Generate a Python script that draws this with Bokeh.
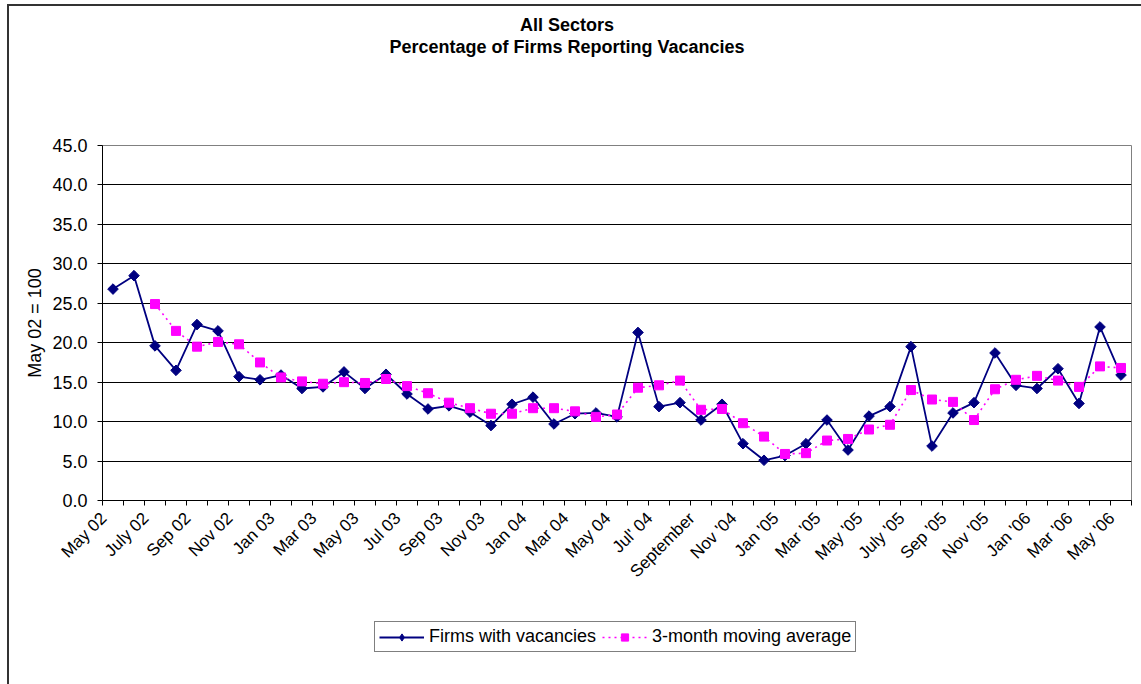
import math
from bokeh.plotting import figure
from bokeh.layouts import column
from bokeh.models import FixedTicker, NumeralTickFormatter, Legend, LegendItem, Range1d, Div
from bokeh.embed import file_html
from bokeh.resources import INLINE

# ---- data ----
tick_labels = ["May 02", "July 02", "Sep 02", "Nov 02", "Jan 03", "Mar 03", "May 03", "Jul 03",
               "Sep 03", "Nov 03", "Jan 04", "Mar 04", "May 04", "Jul' 04", "September",
               "Nov '04", "Jan '05", "Mar '05", "May '05", "July '05", "Sep '05", "Nov '05",
               "Jan '06", "Mar '06", "May '06"]

firms = [26.8, 28.5, 19.6, 16.5, 22.3, 21.5, 15.7, 15.3, 15.9, 14.2,
         14.4, 16.3, 14.2, 16.0, 13.5, 11.6, 12.0, 11.2, 9.5, 12.2,
         13.1, 9.7, 11.0, 11.1, 10.6, 21.3, 11.9, 12.4, 10.2, 12.2,
         7.2, 5.1, 5.7, 7.2, 10.2, 6.4, 10.7, 11.9, 19.5, 6.9,
         11.1, 12.4, 18.7, 14.6, 14.2, 16.7, 12.3, 22.0, 15.9]

moving_avg = [float("nan"), float("nan"), 24.9, 21.5, 19.5, 20.1, 19.8, 17.5, 15.6, 15.1,
              14.8, 15.0, 14.9, 15.4, 14.5, 13.6, 12.4, 11.7, 11.0, 11.0,
              11.7, 11.7, 11.3, 10.6, 10.9, 14.3, 14.6, 15.2, 11.5, 11.6,
              9.8, 8.1, 5.9, 6.0, 7.6, 7.8, 9.0, 9.6, 14.0, 12.8,
              12.5, 10.2, 14.1, 15.3, 15.8, 15.2, 14.4, 17.0, 16.8]

title_lines = ["All Sectors", "Percentage of Firms Reporting Vacancies"]
series_names = ["Firms with vacancies", "3-month moving average"]

n = len(firms)
x = [i + 0.5 for i in range(n)]  # category centres

FONT = "Liberation Sans"
W = 1132

# ---- title ----
title = Div(text="<br>".join(title_lines), width=W, height=127, margin=0,
            styles={"font-family": FONT, "font-size": "18px", "font-weight": "bold",
                    "text-align": "center", "line-height": "22px", "color": "black",
                    "padding-top": "8px", "padding-right": "16px", "box-sizing": "border-box",
                    "background": "white"})

# ---- main chart ----
p = figure(width=W, height=467, output_backend="svg", toolbar_location=None,
           x_range=Range1d(0, n), y_range=Range1d(0, 45),
           min_border_left=93, min_border_right=10, min_border_top=12, min_border_bottom=100,
           background_fill_color="white", border_fill_color="white")

label_pos = [i + 0.0625 for i in range(0, n, 2)]
p.xaxis.ticker = FixedTicker(ticks=label_pos, minor_ticks=list(range(n + 1)))
p.xaxis.major_label_overrides = {pos: lab for pos, lab in zip(label_pos, tick_labels)}
p.xaxis.major_label_orientation = math.pi / 4
p.xaxis.major_tick_line_color = None
p.xaxis.minor_tick_out = 5
p.xaxis.minor_tick_in = 0
p.xaxis.minor_tick_line_color = "black"
p.xaxis.axis_line_color = "black"
p.xaxis.major_label_text_font = FONT
p.xaxis.major_label_text_font_size = "17px"
p.xaxis.major_label_text_color = "black"
p.xaxis.major_label_standoff = 9

p.yaxis.ticker = FixedTicker(ticks=[0, 5, 10, 15, 20, 25, 30, 35, 40, 45])
p.yaxis.formatter = NumeralTickFormatter(format="0.0")
p.yaxis.major_tick_out = 5
p.yaxis.major_tick_in = 0
p.yaxis.minor_tick_line_color = None
p.yaxis.axis_line_color = "black"
p.yaxis.major_tick_line_color = "black"
p.yaxis.major_label_text_font = FONT
p.yaxis.major_label_text_font_size = "18px"
p.yaxis.major_label_text_color = "black"
p.yaxis.major_label_standoff = 10
p.yaxis.axis_label = "May 02 = 100"
p.yaxis.axis_label_text_font = FONT
p.yaxis.axis_label_text_font_size = "18px"
p.yaxis.axis_label_text_font_style = "normal"
p.yaxis.axis_label_text_color = "black"
p.yaxis.axis_label_standoff = 4

p.xgrid.grid_line_color = None
p.ygrid.ticker = FixedTicker(ticks=[5, 10, 15, 20, 25, 30, 35, 40])
p.ygrid.grid_line_color = "black"
p.ygrid.grid_line_width = 1
p.outline_line_color = "#808080"
p.outline_line_width = 1

line_kw = [dict(line_color="#000080", line_width=1.8),
           dict(line_color="#FF00FF", line_width=1.6, line_dash="2 4")]
mark_kw = [dict(marker="square", angle=math.pi / 4, size=7.5, fill_color="#000080", line_color="#000080"),
           dict(marker="square", size=9, fill_color="#FF00FF", line_color="#FF00FF")]
legend_mark_kw = [dict(marker="diamond", size=11, fill_color="#000080", line_color="#000080"),
                  dict(marker="square", size=9, fill_color="#FF00FF", line_color="#FF00FF")]

series = [firms, moving_avg]
for ys, lk, mk in zip(series, line_kw, mark_kw):
    p.line(x, ys, **lk)
    p.scatter(x, ys, **mk)

# ---- legend strip (same series, drawn off-range so only the legend shows) ----
q = figure(width=W, height=84, output_backend="svg", toolbar_location=None,
           x_range=Range1d(-200, -199), y_range=Range1d(0, 1),
           min_border_left=93, min_border_right=10, min_border_top=0, min_border_bottom=0,
           background_fill_color="white", border_fill_color="white")
q.axis.visible = False
q.grid.visible = False
q.outline_line_color = None
items = []
for name, ys, lk, mk in zip(series_names, series, line_kw, legend_mark_kw):
    rl = q.line(x, ys, **lk)
    rs = q.scatter(x, ys, **mk)
    items.append(LegendItem(label=name, renderers=[rl, rs]))
legend = Legend(items=items, location=(272, 32), orientation="horizontal",
                label_text_font=FONT, label_text_font_size="18px", label_text_color="black",
                glyph_width=45, glyph_height=18, label_standoff=5, spacing=6, padding=4,
                margin=0, border_line_color="black", border_line_width=1,
                background_fill_alpha=1.0, label_height=18)
q.add_layout(legend, "center")

layout = column(title, p, q, spacing=0,
                styles={"margin-left": "9px", "margin-top": "6px", "outline": "2px solid #333333",
                        "background": "white"})

open("out.html", "w").write(file_html(layout, INLINE))
